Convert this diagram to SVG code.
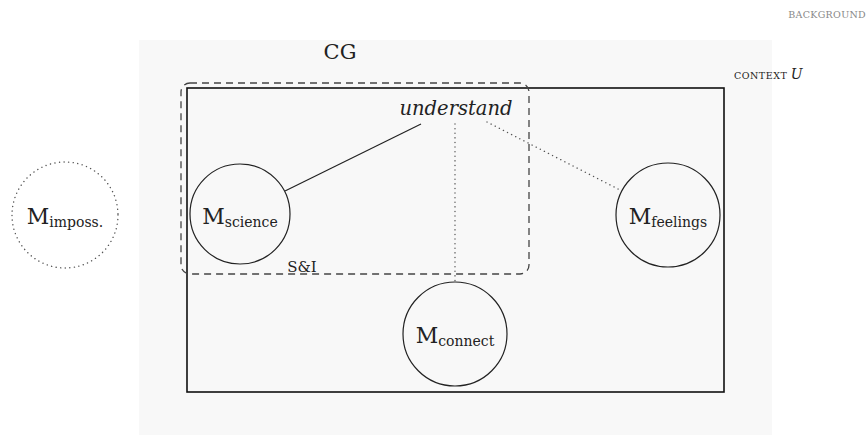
<svg xmlns="http://www.w3.org/2000/svg" width="868" height="435" viewBox="0 0 868 435" font-family="'DejaVu Serif', 'Liberation Serif', 'Times New Roman', serif">
<style>
text{fill:#222}
.node{fill:none;stroke:#222;stroke-width:1.2}
.m{font-size:22px}
.sub{font-size:14px}
.dot{stroke:#555;stroke-width:1.4;stroke-dasharray:0.1 4.5;stroke-linecap:round;fill:none}
.sc{font-size:9.5px;letter-spacing:0.5px}
</style>
<rect x="139" y="40" width="633" height="395" fill="#f8f8f8"/>
<text x="866" y="18" class="sc" text-anchor="end" style="fill:#888;letter-spacing:0.3px">BACKGROUND</text>
<text x="340" y="59" font-size="21" text-anchor="middle">CG</text>
<g id="context">
<rect x="187" y="88" width="537" height="304" fill="none" stroke="#111" stroke-width="1.6"/>
<text x="734" y="79" class="sc">CONTEXT <tspan font-style="italic" font-size="14">U</tspan></text>
</g>
<g id="si">
<rect x="181" y="83" width="348" height="191" rx="9" fill="none" stroke="#444" stroke-width="1.3" stroke-dasharray="7 5"/>
<text x="302" y="272" font-size="15" text-anchor="middle">S&amp;I</text>
</g>
<g id="connectors">
<line x1="285" y1="191" x2="421" y2="124" stroke="#222" stroke-width="1.2"/>
<line x1="455" y1="124" x2="455" y2="283" class="dot"/>
<line x1="487" y1="122" x2="620" y2="190" class="dot"/>
</g>
<g id="understand">
<text x="456" y="115" font-size="19.5" font-style="italic" text-anchor="middle">understand</text>
</g>
<g id="science">
<circle cx="240" cy="214" r="50" class="node"/>
<text x="240" y="224" text-anchor="middle"><tspan class="m">M</tspan><tspan class="sub" dy="3">science</tspan></text>
</g>
<g id="feelings">
<circle cx="668" cy="215" r="52" class="node"/>
<text x="668" y="224" text-anchor="middle"><tspan class="m">M</tspan><tspan class="sub" dy="3">feelings</tspan></text>
</g>
<g id="connect">
<circle cx="455" cy="334" r="52" class="node"/>
<text x="455" y="343" text-anchor="middle"><tspan class="m">M</tspan><tspan class="sub" dy="3">connect</tspan></text>
</g>
<g id="imposs">
<circle cx="65" cy="215" r="53" class="dot"/>
<text x="65" y="224" text-anchor="middle"><tspan class="m">M</tspan><tspan class="sub" dy="3">imposs.</tspan></text>
</g>
</svg>
